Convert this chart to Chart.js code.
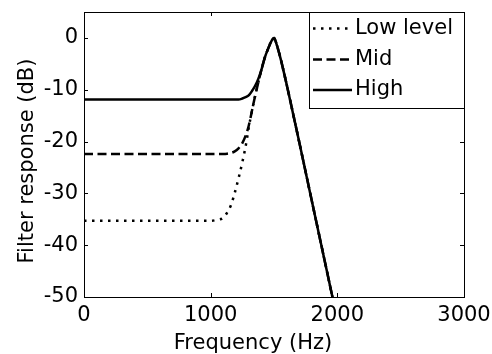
<!DOCTYPE html>
<html>
<head>
<meta charset="utf-8">
<script src="https://cdn.jsdelivr.net/npm/chart.js@4.4.1/dist/chart.umd.min.js"></script>
<style>
  html, body { margin: 0; padding: 0; background: #fff; }
  #wrap { width: 492px; height: 354px; position: relative; }
</style>
</head>
<body>
<div id="wrap"><canvas id="chart" width="492" height="354"></canvas></div>
<script>
// sampled frequencies (Hz), shared by all three curves
var freqs = [0, 1000, 1050, 1100, 1130, 1160, 1190, 1220, 1250, 1280, 1300, 1330, 1350, 1376,
             1400, 1430, 1450, 1480, 1500, 1520, 1550, 1600, 1700, 1800, 1900, 2000];

// filter response (dB) per level
var lowLevel = [-35.3, -35.3, -35.1, -34.7, -33.7, -32.3, -29.9, -27.1, -24.0, -20.4, -17.4, -13.6, -11.3, -8.6,
                -6.2, -3.6, -2.3, -0.6, 0, -1.2, -3.8, -9.0, -20.2, -31.6, -43.0, -54.4];
var midLevel = [-22.4, -22.4, -22.4, -22.4, -22.35, -22.2, -21.9, -21.3, -20.3, -18.6, -17.0, -13.6, -11.3, -8.6,
                -6.2, -3.6, -2.3, -0.6, 0, -1.2, -3.8, -9.0, -20.2, -31.6, -43.0, -54.4];
var highLevel = [-11.9, -11.9, -11.9, -11.9, -11.9, -11.9, -11.9, -11.9, -11.7, -11.4, -11.1, -10.1, -9.3, -7.9,
                 -6.2, -3.6, -2.3, -0.6, 0, -1.2, -3.8, -9.0, -20.2, -31.6, -43.0, -54.4];

var seriesNames = ['Low level', 'Mid', 'High'];
var xTicks = [0, 1000, 2000, 3000];
var yTicks = [-50, -40, -30, -20, -10, 0];

var FONT = '"DejaVu Sans", sans-serif';
var FONT_SIZE = 21;

function pts(ys) {
    return freqs.map(function(f, i) { return { x: f, y: ys[i] }; });
}

var dashes = [[2.5, 5.5], [9, 4.5], []];

// frame box, inward ticks, axis titles and the boxed legend
var decorPlugin = {
    id: 'decor',
    afterDraw: function(chart) {
        var ctx = chart.ctx;
        var a = chart.chartArea;
        var xs = chart.scales.x, ys = chart.scales.y;
        ctx.save();
        ctx.strokeStyle = '#000';
        ctx.lineWidth = 1;
        ctx.strokeRect(a.left + 0.5, a.top + 0.5, a.right - a.left, a.bottom - a.top);

        ctx.beginPath();
        xTicks.forEach(function(v) {
            var px = Math.round(xs.getPixelForValue(v)) + 0.5;
            ctx.moveTo(px, a.bottom); ctx.lineTo(px, a.bottom - 4);
            ctx.moveTo(px, a.top); ctx.lineTo(px, a.top + 4);
        });
        yTicks.forEach(function(v) {
            var py = Math.round(ys.getPixelForValue(v)) + 0.5;
            ctx.moveTo(a.left, py); ctx.lineTo(a.left + 4, py);
            ctx.moveTo(a.right, py); ctx.lineTo(a.right - 4, py);
        });
        ctx.stroke();

        // axis titles
        ctx.fillStyle = '#000';
        ctx.font = FONT_SIZE + 'px ' + FONT;
        ctx.textAlign = 'center';
        ctx.textBaseline = 'alphabetic';
        ctx.fillText('Frequency (Hz)', 253, 349);
        ctx.save();
        ctx.translate(33, 161);
        ctx.rotate(-Math.PI / 2);
        ctx.fillText('Filter response (dB)', 0, 0);
        ctx.restore();

        // legend box
        var lx = 309, ly = a.top, lw = a.right - lx, lh = 96;
        ctx.fillStyle = '#fff';
        ctx.fillRect(lx, ly, lw, lh);
        ctx.strokeRect(lx + 0.5, ly + 0.5, lw, lh);
        var rows = [28.5, 59.5, 90];
        chart.data.datasets.forEach(function(ds, i) {
            ctx.beginPath();
            ctx.lineWidth = ds.borderWidth;
            ctx.setLineDash(ds.borderDash);
            ctx.moveTo(313, rows[i]);
            ctx.lineTo(352, rows[i]);
            ctx.stroke();
            ctx.setLineDash([]);
            ctx.fillStyle = '#000';
            ctx.textAlign = 'left';
            ctx.textBaseline = 'middle';
            ctx.fillText(ds.label, 355, rows[i]);
        });
        ctx.restore();
    }
};

new Chart(document.getElementById('chart'), {
    type: 'line',
    data: {
        datasets: [lowLevel, midLevel, highLevel].map(function(ys, i) {
            return {
                label: seriesNames[i],
                data: pts(ys),
                borderColor: '#000',
                borderWidth: 2.5,
                borderDash: dashes[i],
                pointRadius: 0,
                fill: false,
                cubicInterpolationMode: 'monotone'
            };
        })
    },
    options: {
        responsive: false,
        animation: false,
        layout: { padding: { top: 12, right: 28, left: 0, bottom: 0 } },
        plugins: { legend: { display: false }, tooltip: { enabled: false } },
        scales: {
            x: {
                type: 'linear',
                min: 0, max: 3000,
                grid: { display: false, drawTicks: false },
                border: { display: false },
                ticks: {
                    stepSize: 1000, padding: 6, color: '#000',
                    font: { family: FONT, size: FONT_SIZE },
                    maxRotation: 0,
                    callback: function(v) { return String(v); }
                },
                afterFit: function(s) { s.height = 57; s.paddingLeft = 0; s.paddingRight = 0; }
            },
            y: {
                min: -50, max: 5,
                grid: { display: false, drawTicks: false },
                border: { display: false },
                ticks: {
                    stepSize: 10, padding: 6, color: '#000', includeBounds: false,
                    font: { family: FONT, size: FONT_SIZE }
                },
                afterFit: function(s) { s.width = 84; s.paddingTop = 0; s.paddingBottom = 0; }
            }
        }
    },
    plugins: [decorPlugin]
});
</script>
</body>
</html>
